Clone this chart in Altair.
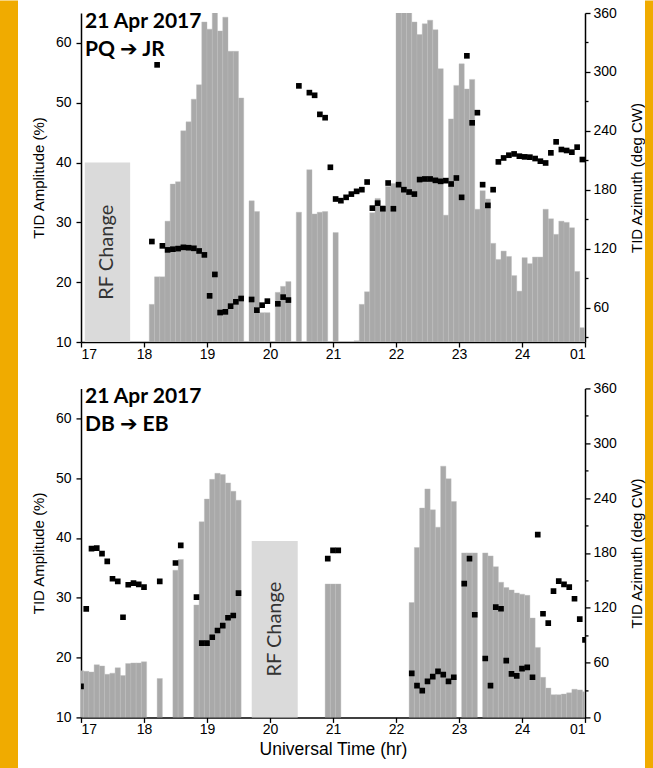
import altair as alt
import pandas as pd

STEP = 1.0 / 12.0  # 5-minute cadence, in hours

# ---------------- upper panel: PQ -> JR (samples at 17:02:30 + k*5 min) ----------------
pq_start = 17.0 + STEP / 2
pq_amp = (
    [None] * 12                                                                    # 17 h
    + [None, 16.3, 20.9, 20.9, 30.2, 36.4, 36.8, 45.3, 46.8, 50.6, 53.0, 63.5]     # 18 h
    + [62.3, 66.0, 62.0, 64.3, 58.6, 58.6, 50.8, None, 33.6, 31.8, 14.9, 14.9]     # 19 h
    + [None, 18.3, 19.3, 20.1, None, 31.7, None, 38.8, 31.4, 31.7, 31.8, None]     # 20 h
    + [28.3, None, None, None, 10.2, 16.3, 18.4, 31.6, 34.0, 32.8, 36.0, 36.5]     # 21 h
    + [66.0, 66.0, 66.0, 63.5, 61.4, 63.2, 63.8, 62.2, 55.7, 31.2, 47.3, 52.9]     # 22 h
    + [56.5, 52.3, 53.9, 32.2, 35.3, 33.9, 26.5, 23.8, 25.2, 24.3, 21.1, 18.5]     # 23 h
    + [24.1, 23.1, 24.2, 24.2, 32.2, 30.6, 28.0, 30.2, 30.0, 29.1, 21.8, 12.4]     # 24 h
)
pq_az = (
    [None] * 12
    + [None, 127.3, 307.2, 122.9, 118.8, 119.5, 120.1, 121.4, 121.0, 120.4, 117.7, 113.7]
    + [72.0, 93.8, 55.0, 55.7, 61.5, 65.9, 69.3, None, 68.3, 57.4, 62.5, 66.6]
    + [None, 63.9, 70.7, 67.7, None, 285.8, None, 278.9, 276.2, 256.8, 253.4, 202.9]
    + [170.6, 168.9, 172.3, 175.6, 178.4, 180.1, 187.9, 161.3, 166.4, 160.7, 186.9, 160.7]
    + [185.2, 180.1, 177.7, 175.6, 190.4, 191.0, 191.0, 189.6, 188.6, 189.3, 185.9, 192.0]
    + [172.3, 316.4, 248.2, 258.5, 185.2, 164.1, 180.1, 208.4, 212.4, 215.2, 216.5, 214.2]
    + [213.5, 213.2, 211.8, 209.1, 207.3, 217.6, 228.8, 221.0, 220.0, 218.3, 223.4, 210.8]
)

# ---------------- lower panel: DB -> EB (samples at 17:00 + k*5 min) ----------------
db_start = 17.0
db_amp = (
    [17.8, 17.7, 17.6, 18.8, 18.6, 17.2, 17.4, 18.3, 17.0, 19.0, 19.1, 19.1]       # 17 h
    + [19.3, None, None, 16.5, None, None, 34.6, 36.4, None, None, 28.8, 42.7]     # 18 h
    + [46.5, 49.8, 50.8, 50.6, 49.2, 47.8, 46.3, None, None, None, None, None]     # 19 h
    + [None] * 11 + [32.3]                                                         # 20 h
    + [32.3, 32.3] + [None] * 10                                                   # 21 h
    + [None, None, None, 29.2, 38.4, 45.0, 48.2, 44.7, 41.8, 52.0, 49.9, 46.1]     # 22 h
    + [None, 37.5, 37.5, 37.5, None, 37.5, 37.0, 35.2, 32.6, 31.7, 31.3, 30.8]     # 23 h
    + [30.6, 30.4, 26.6, 21.7, 16.7, 14.9, 13.8, 13.8, 13.9, 14.1, 14.7, 14.6]     # 24 h
    + [14.3]                                                                       # 01 h
)
db_az = (
    [34.0, 118.8, 184.6, 185.3, 179.2, 170.7, 151.7, 148.8, 109.6, 145.2, 146.9, 145.5]
    + [142.5, None, None, 148.8, None, None, 168.9, 188.3, None, None, 131.6, 81.2]
    + [81.2, 87.7, 95.1, 100.5, 109.0, 111.5, 136.0, None, None, None, None, None]
    + [None] * 11 + [173.7]
    + [182.8, 182.8] + [None] * 10
    + [None, None, None, 48.2, 34.8, 29.3, 39.5, 44.6, 50.4, 46.8, 39.5, 43.9]
    + [None, 146.3, 173.7, 112.3, None, 64.4, 34.8, 120.6, 118.9, 62.2, 47.6, 45.4]
    + [53.4, 54.8, 43.9, 200.0, 113.4, 103.1, 138.2, 149.1, 145.5, 142.5, 129.8, 107.5]
    + [84.9]
)

# "RF Change" intervals (UT hours) and box heights (TID amplitude %)
rf_start = [17.06, 19.71]
rf_end = [17.78, 20.44]
rf_top = [40.0, 39.5]

panel_date = ["21 Apr 2017", "21 Apr 2017"]
panel_path = ["PQ \u2794 JR", "DB \u2794 EB"]
az_low = [25, 0]

x_ticks = [17 + 0.5 * i for i in range(17)]
amp_ticks = [10 + 5 * i for i in range(12)]

ORANGE = "#F0AB00"
BAR = "#A9A9A9"
RFGRAY = "#DADADA"
AXFONT = "Liberation Sans"
TXTFONT = "Lato"

W, H = 504, 329


def series_frame(start, amp, az):
    n = len(amp)
    t = [start + i * STEP for i in range(n)]
    bars = pd.DataFrame({"t": t, "amp": amp}).dropna()
    bars["t0"] = bars["t"] - STEP / 2
    bars["t1"] = bars["t"] + STEP / 2
    pts = pd.DataFrame({"t": t[: len(az)], "az": az}).dropna()
    return bars, pts


def panel(i, start, amp, az, bottom):
    bars, pts = series_frame(start, amp, az)
    rf = pd.DataFrame({"x0": [rf_start[i]], "x1": [rf_end[i]], "top": [rf_top[i]]})
    rf["xm"] = (rf["x0"] + rf["x1"]) / 2
    rf["ym"] = (rf["top"] + 10) / 2
    one = pd.DataFrame({"a": [0]})

    xs = alt.Scale(domain=[17, 25], nice=False, zero=False)
    ys = alt.Scale(domain=[10, 65], nice=False, zero=False)
    rs = alt.Scale(domain=[az_low[i], 360], nice=False, zero=False)

    x_axis = alt.Axis(
        values=x_ticks,
        labelExpr="datum.value % 1 == 0 ? (datum.value == 25 ? '01' : format(datum.value, 'd')) : ''",
        tickSize={"condition": {"test": "datum.value % 1 == 0", "value": 5}, "value": 3},
        labelPadding=0,
        title="Universal Time (hr)" if bottom else "",
        titleFontSize=17.5,
        titlePadding=4,
    )
    y_axis = alt.Axis(
        values=amp_ticks,
        labelExpr="datum.value % 10 == 0 ? datum.label : ''",
        tickSize={"condition": {"test": "datum.value % 10 == 0", "value": 5}, "value": 3},
        labelPadding=5,
        title="TID Amplitude (%)",
        titleAngle=270,
        titleX=-43,
        titleY=H / 2,
        titleAlign="center",
        titleBaseline="middle",
    )
    az_vals = [v for v in range(0, 361, 30) if v >= az_low[i]]
    r_axis = alt.Axis(
        orient="right",
        values=az_vals,
        labelExpr="datum.value % 60 == 0 ? datum.label : ''",
        tickSize={"condition": {"test": "datum.value % 60 == 0", "value": 5}, "value": 3},
        labelPadding=3,
        title="TID Azimuth (deg CW)",
        titleAngle=270,
        titleX=51,
        titleY=H / 2,
        titleAlign="center",
        titleBaseline="middle",
    )

    layers = []
    if i == 0:
        # orange page margins at both sides, spanning both panels
        layers.append(
            alt.Chart(one).mark_rect(color=ORANGE, clip=False).encode(
                x=alt.value(-81), x2=alt.value(-63), y=alt.value(-12.4), y2=alt.value(755.6)
            )
        )
        layers.append(
            alt.Chart(one).mark_rect(color=ORANGE, clip=False).encode(
                x=alt.value(564), x2=alt.value(572), y=alt.value(-12.4), y2=alt.value(755.6)
            )
        )
    rfbox = alt.Chart(rf).mark_rect(color=RFGRAY).encode(
        x=alt.X("x0:Q", scale=xs, axis=x_axis), x2="x1:Q",
        y=alt.Y("top:Q", scale=ys, axis=y_axis), y2=alt.datum(10),
    )
    rftext = alt.Chart(rf).mark_text(
        text="RF Change", angle=270, font=TXTFONT, fontSize=20, color="#333333",
        align="center", baseline="middle",
    ).encode(x="xm:Q", y="ym:Q")
    barl = alt.Chart(bars).mark_rect(color=BAR, clip=True, stroke="#BDBDBD", strokeWidth=0.4).encode(
        x="t0:Q", x2="t1:Q", y="amp:Q", y2=alt.datum(10),
    )
    left = alt.layer(*layers, rfbox, barl, rftext)

    sq = alt.Chart(pts).mark_square(size=32, color="black", opacity=1, clip=True).encode(
        x="t:Q", y=alt.Y("az:Q", scale=rs, axis=r_axis)
    )
    lab1 = alt.Chart(one).mark_text(
        text=panel_date[i], font=TXTFONT, fontWeight="bold", fontSize=21,
        align="left", baseline="alphabetic", color="black",
    ).encode(x=alt.value(4), y=alt.value(15))
    lab2 = alt.Chart(one).mark_text(
        text=panel_path[i], font=TXTFONT + ", DejaVu Sans", fontWeight="bold", fontSize=21,
        align="left", baseline="alphabetic", color="black",
    ).encode(x=alt.value(4), y=alt.value(43))

    return alt.layer(left, sq, lab1, lab2).resolve_scale(y="independent").properties(width=W, height=H)


top = panel(0, pq_start, pq_amp, pq_az, False)
bot = panel(1, db_start, db_amp, db_az, True)

chart = (
    alt.vconcat(top, bot, spacing=46.4, bounds="flush")
    .properties(padding={"left": 0, "right": 0, "top": 0, "bottom": 0})
    .configure(background="white")
    .configure_view(strokeWidth=0)
    .configure_axis(
        grid=False,
        domainColor="black", domainWidth=1.5,
        tickColor="black", tickWidth=1.3,
        labelColor="black", labelFont=AXFONT, labelFontSize=14,
        titleColor="black", titleFont=AXFONT, titleFontSize=15, titleFontWeight="normal",
    )
)

chart.save("out.html", embed_options={"renderer": "svg", "actions": False})
